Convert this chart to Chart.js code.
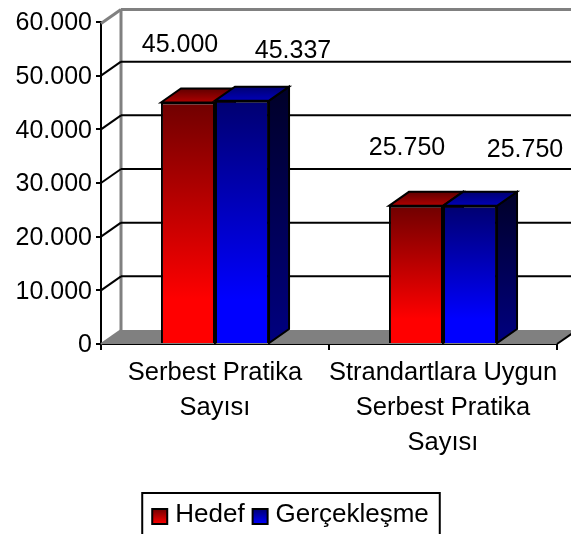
<!DOCTYPE html>
<html>
<head>
<meta charset="utf-8">
<title>Serbest Pratika</title>
<script src="https://cdn.jsdelivr.net/npm/chart.js@4"></script>
<style>
html, body { margin: 0; padding: 0; background: #fff; overflow: hidden; }
canvas { display: block; }
</style>
</head>
<body>
<canvas id="chart" width="571" height="534"></canvas>
<script>
const categories = [['Serbest Pratika', 'Sayısı'], ['Strandartlara Uygun', 'Serbest Pratika', 'Sayısı']];
const hedefValues = [45000, 25750];
const gerceklesmeValues = [45337, 25750];
const yTicks = [0, 10000, 20000, 30000, 40000, 50000, 60000];

// yan yuz derinligi
const DX = 20, DY = -14;
const FONT = '"Liberation Sans", Arial, sans-serif';
const FONT_SIZE = 25;
const CAT_SIZE = 25.5;
const LEGEND_SIZE = 26;

// degerlerin yazi kaymasi (cubuk ortasina gore)
const labelOffsets = [[[-8, -57], [51, -50]], [[-9, -58], [55, -56]]];

const palettes = [
    { front: ['#700000', '#ff0000'], top: ['#600000', '#b00000'], side: ['#300000', '#800000'] },
    { front: ['#000070', '#0000ff'], top: ['#000070', '#0000b8'], side: ['#000028', '#000080'] }
];

function fmt(v) {
    return String(v).replace(/\B(?=(\d{3})+$)/g, '.');
}

function grad(ctx, y0, y1, colors, stop) {
    const g = ctx.createLinearGradient(0, y0, 0, y1);
    g.addColorStop(0, colors[0]);
    g.addColorStop(stop || 1, colors[1]);
    return g;
}

function poly(ctx, pts, fill, stroke) {
    ctx.beginPath();
    pts.forEach((p, i) => i ? ctx.lineTo(p[0], p[1]) : ctx.moveTo(p[0], p[1]));
    ctx.closePath();
    if (fill) { ctx.fillStyle = fill; ctx.fill(); }
    if (stroke) { ctx.strokeStyle = stroke; ctx.stroke(); }
}

function line(ctx, x0, y0, x1, y1, color, width) {
    ctx.beginPath();
    ctx.moveTo(x0, y0);
    ctx.lineTo(x1, y1);
    ctx.strokeStyle = color;
    ctx.lineWidth = width || 2;
    ctx.stroke();
}

function frontFill(palette) {
    return function (c) {
        if (c.type !== 'data' || !c.chart.scales.y) return palette.front[1];
        const y = c.chart.scales.y;
        return grad(c.chart.ctx, y.getPixelForValue(c.raw), y.getPixelForValue(0), palette.front, 0.82);
    };
}

const box3d = {
    id: 'box3d',
    afterLayout(chart) {
        // lejant referansta biraz sagda
        const lg = chart.legend;
        lg.left += 12;
        lg.right += 12;
        lg.legendHitBoxes.forEach(b => { b.left += 12; });
    },
    beforeDatasetsDraw(chart) {
        const ctx = chart.ctx, y = chart.scales.y, a = chart.chartArea;
        const W = chart.width + 10;
        ctx.save();
        ctx.lineWidth = 2;

        // taban
        const y0 = y.getPixelForValue(0);
        poly(ctx, [[a.left, y0], [a.left + DX, y0 + DY], [W + DX, y0 + DY], [W, y0]], '#808080', null);

        // arka duvar
        const top = y.getPixelForValue(60000) + 1.5;
        line(ctx, a.left + DX, top + DY, a.left + DX, y0 + DY, '#808080', 3);
        line(ctx, a.left, top, a.left + DX, top + DY, '#808080', 3);
        line(ctx, a.left + DX, top + DY, W, top + DY, '#808080', 3);
        line(ctx, a.left, y0, a.left + DX, y0 + DY, '#808080', 2);

        yTicks.forEach(v => {
            if (v === 0 || v === 60000) return;
            const py = y.getPixelForValue(v);
            line(ctx, a.left + DX, py + DY, W, py + DY, '#000');
            line(ctx, a.left, py, a.left + DX, py + DY, '#000');
        });

        // taban sag ucu (beyaz kose)
        poly(ctx, [[a.right, y0], [a.right + DX, y0 + DY], [W + DX, y0 + DY], [W, y0]], '#fff', null);
        line(ctx, a.right, y0, a.right + DX, y0 + DY, '#000');

        // cubuklarin ust ve yan yuzleri
        ctx.lineWidth = 2;
        chart.data.datasets.forEach((ds, di) => {
            const pal = palettes[di];
            chart.getDatasetMeta(di).data.forEach(bar => {
                const l = bar.x - bar.width / 2, r = bar.x + bar.width / 2;
                poly(ctx, [[r, bar.y], [r + DX, bar.y + DY], [r + DX, bar.base + DY], [r, bar.base]],
                    grad(ctx, bar.y + DY, bar.base, pal.side), '#000');
                poly(ctx, [[l, bar.y], [l + DX, bar.y + DY], [r + DX, bar.y + DY], [r, bar.y]],
                    grad(ctx, bar.y + DY, bar.y, pal.top), '#000');
            });
        });
        ctx.restore();
    },
    afterDatasetsDraw(chart) {
        const ctx = chart.ctx;
        ctx.save();
        ctx.font = FONT_SIZE + 'px ' + FONT;
        ctx.fillStyle = '#000';
        ctx.textAlign = 'center';
        ctx.textBaseline = 'middle';
        chart.data.datasets.forEach((ds, di) => {
            chart.getDatasetMeta(di).data.forEach((bar, i) => {
                const off = labelOffsets[i][di];
                ctx.fillText(fmt(ds.data[i]), bar.x + off[0], bar.y + off[1]);
            });
        });
        ctx.restore();
    },
    afterDraw(chart) {
        // lejant kutulari ve cercevesi
        const lg = chart.legend;
        const boxes = lg.legendHitBoxes;
        if (!boxes || !boxes.length) return;
        const last = boxes[boxes.length - 1];
        const ctx = chart.ctx;
        ctx.save();
        ctx.lineWidth = 2;
        ctx.strokeStyle = '#000';
        boxes.forEach((b, i) => {
            const sy = lg.top + 15;
            ctx.fillStyle = grad(ctx, sy, sy + 15, palettes[i].front);
            ctx.fillRect(b.left, sy, 15, 15);
            ctx.strokeRect(b.left, sy, 15, 15);
        });
        ctx.strokeRect(boxes[0].left - 10, lg.top - 1, last.left + last.width - boxes[0].left + 21, 60);
        ctx.restore();
    }
};

const canvas = document.getElementById('chart');

new Chart(canvas, {
    type: 'bar',
    data: {
        labels: categories,
        datasets: [
            { label: 'Hedef', data: hedefValues, backgroundColor: frontFill(palettes[0]), borderColor: '#000', borderWidth: 2 },
            { label: 'Gerçekleşme', data: gerceklesmeValues, backgroundColor: frontFill(palettes[1]), borderColor: '#000', borderWidth: 2 }
        ]
    },
    options: {
        responsive: false,
        animation: false,
        layout: { padding: { top: 22, right: 14, bottom: -4, left: 0 } },
        datasets: { bar: { categoryPercentage: 0.474, barPercentage: 1 } },
        plugins: {
            tooltip: { enabled: false },
            legend: {
                position: 'bottom',
                labels: {
                    color: '#000',
                    font: { family: FONT, size: LEGEND_SIZE },
                    boxWidth: 10,
                    boxHeight: 15,
                    padding: 8,
                    generateLabels(chart) {
                        // kutular afterDraw icinde ciziliyor
                        return chart.data.datasets.map((ds, i) => ({
                            text: ds.label,
                            fillStyle: 'rgba(0,0,0,0)',
                            strokeStyle: 'rgba(0,0,0,0)',
                            lineWidth: 0,
                            datasetIndex: i
                        }));
                    }
                }
            }
        },
        scales: {
            x: {
                afterFit(s) { s.height = 150; },
                grid: { offset: true, drawOnChartArea: false, color: '#000', lineWidth: 2, tickLength: 6 },
                border: { color: '#000', width: 2 },
                ticks: {
                    color: '#000',
                    padding: 6,
                    maxRotation: 0,
                    autoSkip: false,
                    font: { family: FONT, size: CAT_SIZE, lineHeight: 1.36 }
                }
            },
            y: {
                min: 0,
                max: 60000,
                afterFit(s) { s.width = 101; },
                afterBuildTicks(s) { s.ticks = yTicks.map(v => ({ value: v })); },
                grid: { drawOnChartArea: false, color: '#000', lineWidth: 2, tickLength: 5 },
                border: { color: '#000', width: 2 },
                ticks: {
                    color: '#000',
                    padding: 4,
                    labelOffset: 1.5,
                    font: { family: FONT, size: FONT_SIZE },
                    callback: v => fmt(v)
                }
            }
        }
    },
    plugins: [box3d]
});
</script>
</body>
</html>
